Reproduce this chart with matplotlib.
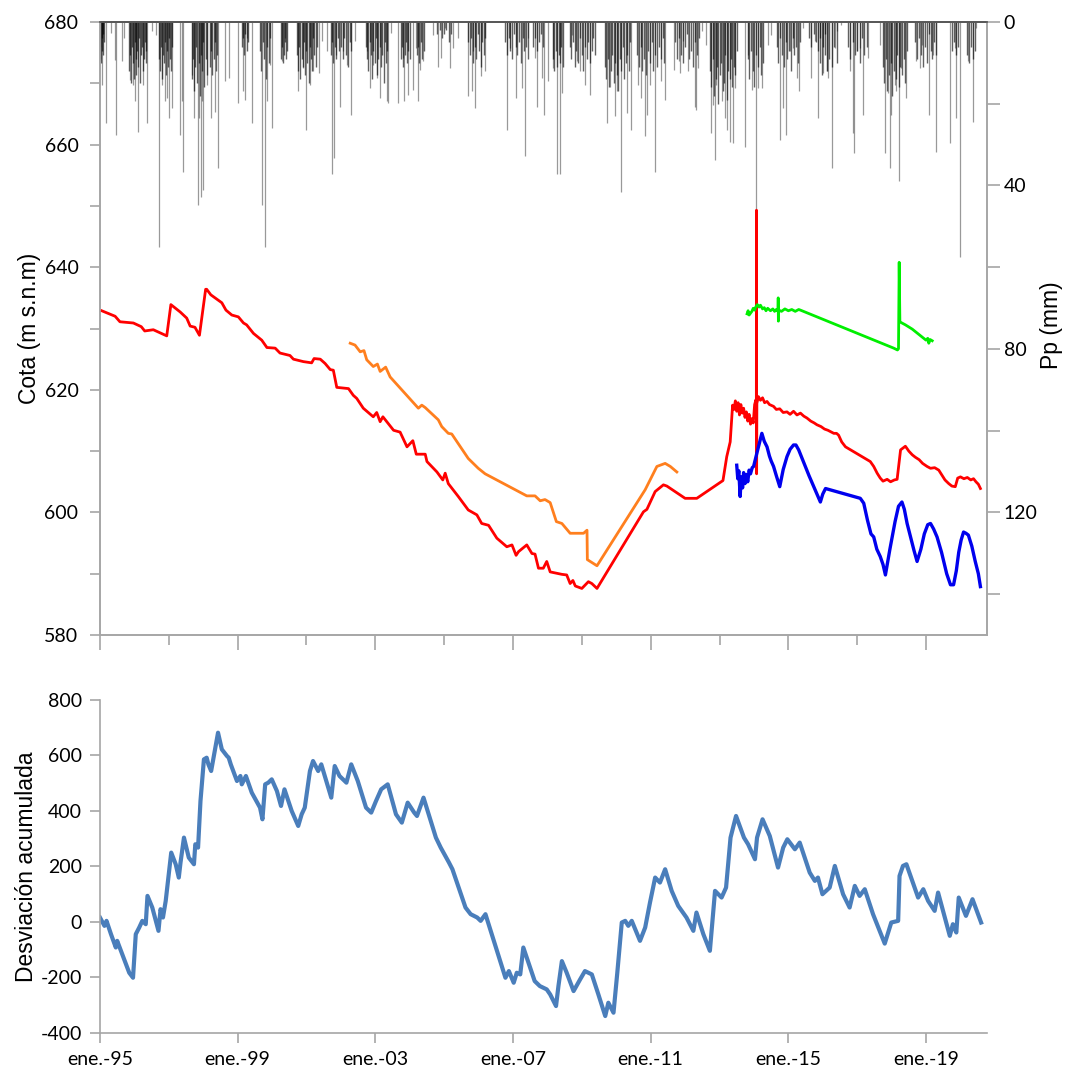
import numpy as np
import matplotlib
matplotlib.use("Agg")
import matplotlib.pyplot as plt

plt.rcParams["axes.unicode_minus"] = False

# ---------------- data ----------------
red_t = [1995.05, 1995.44, 1995.58, 1995.97, 1996.2, 1996.3, 1996.55, 1996.94, 1997.06, 1997.33,
         1997.52, 1997.62, 1997.76, 1997.89, 1998.07, 1998.1, 1998.22, 1998.54, 1998.66, 1998.83,
         1999.02, 1999.17, 1999.26, 1999.46, 1999.7, 1999.85, 2000.09, 2000.23, 2000.52, 2000.62,
         2000.91, 2001.15, 2001.22, 2001.4, 2001.54, 2001.69, 2001.78, 2001.88, 2002.22, 2002.36,
         2002.46, 2002.65, 2002.94, 2003.04, 2003.14, 2003.22, 2003.53, 2003.72, 2003.92, 2004.09,
         2004.19, 2004.45, 2004.5, 2004.79, 2004.96, 2005.03, 2005.12, 2005.41, 2005.7, 2005.95,
         2006.09, 2006.29, 2006.53, 2006.82, 2006.97, 2007.09, 2007.16, 2007.4, 2007.55, 2007.64,
         2007.74, 2007.88, 2007.98, 2008.08, 2008.42, 2008.56, 2008.66, 2008.74, 2008.81, 2009.0,
         2009.19, 2009.29, 2009.44, 2010.79, 2010.89, 2011.13, 2011.37, 2011.47, 2011.71, 2012.0,
         2012.34, 2013.1, 2013.21, 2013.31, 2013.38,
         2013.42, 2013.46, 2013.5, 2013.54, 2013.58, 2013.62, 2013.66, 2013.7, 2013.74, 2013.78,
         2013.82, 2013.86, 2013.9, 2013.94, 2013.98, 2014.02, 2014.06,
         2014.07, 2014.074, 2014.078, 2014.085,
         2014.13, 2014.19, 2014.25, 2014.31, 2014.38, 2014.45, 2014.57, 2014.65, 2014.75, 2014.85,
         2014.96, 2015.05, 2015.15, 2015.25, 2015.35, 2015.45, 2015.54, 2015.65, 2015.75, 2015.83,
         2015.95, 2016.05, 2016.15, 2016.22, 2016.32, 2016.4, 2016.46, 2016.55, 2016.66, 2017.38,
         2017.48, 2017.58, 2017.67, 2017.75, 2017.87, 2017.97, 2018.08, 2018.16, 2018.26, 2018.4,
         2018.5, 2018.6, 2018.69, 2018.8, 2018.9, 2019.03, 2019.13, 2019.25, 2019.37, 2019.45,
         2019.55, 2019.66, 2019.75, 2019.85, 2019.92, 2020.0, 2020.1, 2020.2, 2020.3, 2020.38,
         2020.45, 2020.52, 2020.58]
red_v = [632.9, 632.0, 631.1, 630.9, 630.3, 629.6, 629.8, 628.8, 633.9, 632.7,
         631.7, 630.4, 630.2, 628.9, 636.4, 636.4, 635.5, 634.2, 633.0, 632.2,
         631.9, 630.9, 630.6, 629.2, 628.1, 626.9, 626.8, 626.0, 625.6, 625.0,
         624.6, 624.4, 625.1, 625.0, 624.3, 623.3, 623.2, 620.4, 620.2, 619.1,
         618.6, 617.0, 615.6, 616.3, 614.8, 615.6, 613.4, 613.1, 610.7, 611.7,
         609.5, 609.5, 608.3, 606.6, 605.3, 606.4, 604.7, 602.6, 600.4, 599.6,
         598.2, 597.9, 595.8, 594.4, 594.7, 593.0, 593.6, 594.7, 593.3, 593.2,
         590.9, 590.9, 592.0, 590.3, 589.9, 589.8, 588.4, 588.9, 588.0, 587.6,
         588.7, 588.4, 587.6, 600.1, 600.5, 603.4, 604.5, 604.3, 603.4, 602.3,
         602.3, 605.2, 609.1, 611.5, 617.5,
         616.8, 618.2, 616.5, 617.9, 615.9, 617.6, 616.2, 617.0, 615.5, 616.4,
         614.9, 616.0, 614.4, 615.3, 614.6, 617.6, 618.4,
         618.0, 649.3, 606.3, 617.8,
         618.9, 618.3, 618.7, 617.9, 618.1, 617.6, 617.3, 616.8, 616.9, 616.3,
         616.4, 616.0, 616.5, 615.9, 616.2, 615.7, 615.4, 614.9, 614.6, 614.3,
         614.0, 613.6, 613.4, 613.2, 612.9, 612.9, 612.6, 611.5, 610.7, 608.3,
         607.5, 606.4, 605.6, 605.1, 605.4, 605.0, 605.3, 605.4, 610.2, 610.8,
         610.0, 609.4, 609.0, 608.6, 608.0, 607.5, 607.2, 607.3, 606.9, 606.2,
         605.3, 604.7, 604.3, 604.2, 605.6, 605.8, 605.5, 605.7, 605.3, 605.5,
         605.0, 604.6, 603.9]

orange_t = [2002.27, 2002.41, 2002.56, 2002.67, 2002.75, 2002.94, 2003.06, 2003.14, 2003.3, 2003.43,
            2004.25, 2004.35, 2004.45, 2004.83, 2004.93, 2005.12, 2005.22, 2005.7, 2005.99, 2006.19,
            2007.4, 2007.64, 2007.79, 2007.93, 2008.08, 2008.26, 2008.42, 2008.66, 2009.05, 2009.15,
            2009.16, 2009.44, 2010.84, 2011.18, 2011.42, 2011.57, 2011.76]
orange_v = [627.6, 627.3, 626.2, 626.4, 624.9, 623.8, 624.2, 623.0, 623.7, 622.1,
            617.0, 617.5, 617.1, 615.1, 614.0, 612.9, 612.8, 608.8, 607.2, 606.3,
            602.7, 602.7, 601.9, 602.1, 601.6, 598.5, 598.2, 596.6, 596.6, 597.1,
            592.3, 591.3, 603.7, 607.5, 608.0, 607.5, 606.6]

green_t = [2013.8, 2013.83, 2013.86, 2013.9, 2013.94, 2013.98, 2014.02, 2014.06, 2014.1, 2014.15,
           2014.19, 2014.25, 2014.3, 2014.35, 2014.4, 2014.48, 2014.55, 2014.6, 2014.65, 2014.7,
           2014.705, 2014.71, 2014.72, 2014.8, 2014.9, 2015.0, 2015.1, 2015.2, 2015.3, 2015.35,
           2018.06, 2018.17, 2018.2, 2018.22, 2018.24, 2018.3, 2018.4, 2018.6, 2018.8, 2019.0,
           2019.05, 2019.08, 2019.12, 2019.18]
green_v = [632.4, 632.9, 632.2, 632.5, 632.8, 633.3, 633.0, 633.6, 633.9, 633.5,
           633.8, 633.2, 633.4, 632.9, 633.3, 632.9, 633.2, 632.8, 633.1, 632.8,
           635.0, 631.2, 633.0, 632.8, 633.2, 632.9, 633.1, 632.8, 633.1, 633.0,
           626.8, 626.5, 626.7, 640.8, 631.1, 630.9, 630.6, 629.9, 629.0, 628.1,
           628.4, 627.6, 628.2, 628.0]

blue_t = [2013.5, 2013.53, 2013.56, 2013.6, 2013.63, 2013.67, 2013.7, 2013.74, 2013.78, 2013.82,
          2013.86, 2013.9, 2013.95, 2013.99, 2014.1, 2014.23, 2014.3, 2014.38, 2014.45, 2014.5,
          2014.57, 2014.65, 2014.75, 2014.85, 2014.96, 2015.05, 2015.15, 2015.22, 2015.3, 2015.6,
          2015.93, 2016.0, 2016.08, 2017.09, 2017.19, 2017.3, 2017.4, 2017.48, 2017.57, 2017.67,
          2017.75, 2017.82, 2017.95, 2018.1, 2018.2, 2018.3, 2018.37, 2018.45, 2018.55, 2018.65,
          2018.74, 2018.85, 2018.95, 2019.05, 2019.13, 2019.22, 2019.32, 2019.45, 2019.6, 2019.71,
          2019.8, 2019.88, 2019.95, 2020.02, 2020.09, 2020.16, 2020.23, 2020.33, 2020.43, 2020.52,
          2020.58]
blue_v = [607.7, 605.5, 606.8, 602.6, 605.8, 604.0, 606.5, 604.7, 606.2, 605.0,
          606.9, 606.3, 607.3, 607.5, 610.0, 612.9, 611.6, 610.7, 609.2, 608.4,
          607.5, 606.0, 604.2, 607.0, 609.1, 610.3, 611.0, 611.0, 610.2, 606.0,
          601.7, 603.0, 603.9, 602.3, 601.5, 598.7, 596.5, 596.0, 594.0, 592.8,
          591.5, 589.8, 594.0, 598.5, 601.0, 601.7, 600.5, 598.2, 596.0, 593.8,
          592.0, 594.0, 596.5, 598.0, 598.2, 597.3, 596.0, 593.5, 590.0, 588.2,
          588.2, 590.5, 593.5, 595.5, 596.8, 596.6, 596.3, 594.5, 592.0, 590.0,
          587.9]

# isolated daily rainfall events (decimal year, mm)
pp_year = [1995.0, 1995.05, 1995.17, 1995.32, 1995.44, 1995.48, 1995.63, 1995.71, 1995.87, 1995.97,
           1996.02, 1996.11, 1996.26, 1996.36, 1996.52, 1996.63, 1996.71, 1996.79, 1996.89, 1996.94,
           1997.0, 1997.08, 1997.32, 1997.37, 1997.42, 1997.66, 1997.74, 1997.84, 1997.88, 1997.93,
           1997.95, 1998.0, 1998.1, 1998.24, 1998.34, 1998.44, 1998.63, 1998.76, 1999.02, 1999.16,
           1999.21, 1999.28, 1999.43, 1999.72, 1999.79, 1999.84, 1999.94, 1999.99, 2000.28, 2000.37,
           2000.76, 2000.9, 2000.98, 2001.1, 2001.2, 2001.37, 2001.44, 2001.6, 2001.73, 2001.81,
           2001.87, 2001.97, 2002.07, 2002.17, 2002.28, 2002.41, 2002.75, 2002.84, 2002.94, 2003.04,
           2003.13, 2003.33, 2003.37, 2003.45, 2003.65, 2003.81, 2003.84, 2003.94, 2004.08, 2004.17,
           2004.25, 2004.29, 2004.39, 2004.68, 2004.81, 2004.92, 2005.02, 2005.17, 2005.26, 2005.39,
           2005.7, 2005.8, 2005.84, 2005.91, 2006.07, 2006.18, 2006.84, 2006.91, 2007.1, 2007.25,
           2007.34, 2007.44, 2007.63, 2007.7, 2007.83, 2007.9, 2008.02, 2008.17, 2008.28, 2008.36,
           2008.41, 2008.7, 2008.85, 2008.94, 2009.09, 2009.23, 2009.72, 2009.81, 2009.96, 2010.03,
           2010.15, 2010.3, 2010.44, 2010.64, 2010.73, 2010.83, 2010.9, 2010.97, 2011.12, 2011.31,
           2011.41, 2011.67, 2011.82, 2011.85, 2011.94, 2012.09, 2012.28, 2012.33, 2012.38, 2012.48,
           2012.62, 2012.75, 2012.81, 2012.86, 2012.91, 2013.06, 2013.15, 2013.23, 2013.3, 2013.39,
           2013.44, 2013.73, 2013.83, 2013.95, 2014.07, 2014.12, 2014.22, 2014.41, 2014.51, 2014.75,
           2014.85, 2014.94, 2015.04, 2015.14, 2015.24, 2015.3, 2015.43, 2015.67, 2015.77, 2015.85,
           2016.01, 2016.11, 2016.15, 2016.27, 2016.35, 2016.4, 2016.54, 2016.78, 2016.88, 2016.91,
           2016.98, 2017.07, 2017.17, 2017.32, 2017.65, 2017.8, 2017.9, 2017.94, 2017.99, 2018.09,
           2018.14, 2018.21, 2018.28, 2018.43, 2018.72, 2018.82, 2018.87, 2019.09, 2019.2, 2019.3,
           2019.69, 2019.83, 2019.88, 2019.98, 2020.22, 2020.35, 2020.46]
pp_mm = [9.6, 15.4, 24.8, 2.7, 9.2, 27.6, 9.6, 3.9, 14.1, 15.4,
         19.4, 26.8, 15.4, 24.8, 2.3, 3.1, 55.0, 15.4, 19.4, 18.6,
         23.5, 21.1, 27.6, 19.4, 36.6, 12.9, 23.5, 44.8, 23.5, 42.7,
         19.4, 41.1, 15.4, 23.5, 21.9, 35.8, 14.5, 13.7, 19.9, 17.0,
         19.0, 3.9, 24.8, 44.8, 55.0, 19.4, 10.5, 26.0, 9.6, 3.9,
         17.0, 11.3, 26.5, 15.4, 12.1, 12.5, 4.7, 7.2, 37.3, 33.3,
         8.0, 20.7, 7.2, 10.5, 22.7, 4.7, 7.2, 16.2, 10.5, 13.7,
         18.6, 19.4, 19.8, 2.7, 19.7, 8.8, 19.3, 17.8, 16.6, 6.4,
         19.3, 11.7, 9.6, 3.1, 10.9, 8.8, 1.5, 11.3, 6.4, 3.9,
         18.2, 17.0, 7.2, 21.0, 13.3, 12.1, 26.4, 6.4, 18.6, 16.2,
         32.9, 3.9, 8.8, 20.7, 13.7, 22.7, 14.5, 11.3, 37.3, 37.3,
         17.4, 3.1, 9.6, 12.1, 15.4, 17.8, 24.8, 15.8, 23.1, 17.0,
         41.5, 22.3, 26.4, 15.4, 18.6, 28.0, 22.7, 15.4, 36.6, 14.5,
         19.0, 11.7, 9.6, 12.5, 4.7, 12.1, 20.7, 21.5, 11.3, 2.3,
         5.6, 27.2, 20.3, 33.7, 15.4, 19.4, 23.5, 26.4, 29.3, 29.7,
         16.2, 30.5, 8.0, 16.6, 46.0, 16.2, 16.2, 5.6, 3.1, 28.8,
         21.1, 27.6, 7.2, 6.4, 13.7, 17.0, 1.5, 13.7, 4.7, 23.5,
         12.5, 12.1, 13.7, 35.8, 6.4, 2.3, 0.8, 12.1, 27.2, 32.1,
         7.2, 6.4, 22.7, 8.8, 5.6, 32.1, 17.4, 35.8, 22.7, 15.4,
         17.0, 39.0, 11.3, 18.6, 9.6, 11.3, 5.6, 22.7, 8.0, 31.7,
         29.7, 6.4, 23.5, 57.4, 9.6, 24.5, 1.5]

# dense rainy-season clusters: (start, end, daily mm read as the dark band)
wet_start = [1994.99, 1995.85, 1996.72, 1997.66, 1998.2, 1999.12, 1999.65, 2000.25, 2000.72, 2001.7,
             2002.0, 2002.72, 2003.74, 2004.2, 2004.8, 2005.7, 2006.77, 2007.58, 2008.16, 2008.65,
             2009.67, 2010.6, 2011.7, 2012.72, 2013.82, 2014.66, 2015.6, 2015.92, 2016.73, 2017.74,
             2018.68, 2019.74, 2020.18]
wet_end = [1995.12, 1996.35, 1997.1, 1998.1, 1998.4, 1999.3, 1999.95, 2000.42, 2001.3, 2001.95,
           2002.3, 2003.35, 2004.0, 2004.4, 2005.2, 2006.2, 2007.43, 2007.87, 2008.45, 2009.38,
           2010.4, 2011.4, 2012.4, 2013.5, 2014.26, 2015.33, 2016.06, 2016.4, 2017.28, 2018.44,
           2019.3, 2019.93, 2020.42]
wet_mm = [[9, 6, 10, 4, 7, 3, 8, 5],
          [12, 8, 15, 6, 10, 14, 5, 9, 13, 7, 11, 4, 15, 8, 6, 12, 9, 5, 10, 7],
          [9, 12, 6, 14, 8, 10, 5, 13, 7, 11, 4, 9, 12, 6],
          [14, 9, 17, 11, 6, 15, 10, 18, 8, 12, 5, 16, 9, 13],
          [11, 7, 13, 9, 5, 12, 8],
          [6, 4, 8, 3, 7, 5],
          [7, 12, 5, 9, 14, 6, 10, 4],
          [9, 6, 10, 8, 5, 9, 7],
          [8, 12, 6, 14, 9, 11, 5, 13, 7, 10, 15, 6, 9, 12, 4, 8, 11, 6],
          [8, 5, 10, 6, 9, 4, 7],
          [6, 9, 4, 8, 11, 5, 7],
          [6, 9, 12, 5, 8, 14, 7, 10, 4, 13, 9, 6, 11, 8, 15, 5, 10, 7],
          [9, 6, 11, 8, 5, 10, 7, 9],
          [8, 6, 10, 5, 9, 7],
          [3, 2, 4, 3, 2, 5, 3],
          [5, 8, 4, 10, 6, 9, 3, 7, 11, 5, 8, 4],
          [5, 8, 4, 7, 9, 3, 6, 8, 5, 10, 4, 7, 6, 9],
          [6, 4, 7, 5, 3, 6],
          [9, 12, 7, 11, 8, 10, 6, 11],
          [6, 9, 5, 11, 7, 10, 4, 8, 12, 6, 9, 5, 10, 7, 4, 8],
          [11, 14, 9, 16, 12, 8, 15, 10, 13, 17, 9, 12, 6, 14, 10, 8, 12, 5],
          [8, 11, 6, 12, 9, 13, 7, 10, 5, 12, 8, 11, 6, 9, 4, 10],
          [5, 9, 4, 8, 10, 6, 3, 9, 7, 11, 5, 8, 4],
          [12, 16, 9, 18, 14, 11, 20, 13, 10, 17, 15, 8, 19, 12, 14, 9, 16, 11, 13, 7],
          [9, 14, 7, 12, 16, 8, 11, 6, 13, 10],
          [6, 10, 4, 8, 11, 5, 9, 7, 12, 4, 8, 6, 10, 5],
          [4, 6, 3, 5, 7, 4, 6, 3],
          [10, 13, 8, 12, 9, 11, 6, 10],
          [6, 9, 5, 8, 7, 10, 4, 8, 6],
          [11, 15, 9, 17, 13, 10, 18, 12, 14, 8, 16, 11, 13, 9, 15, 7],
          [5, 9, 4, 8, 11, 6, 10, 3, 7, 9, 5, 8],
          [7, 5, 8, 6],
          [8, 10, 6, 9, 7]]

dev_t = [1995.0, 1995.13, 1995.19, 1995.32, 1995.46, 1995.5, 1995.61, 1995.85, 1995.96, 1996.04,
         1996.14, 1996.23, 1996.33, 1996.38, 1996.52, 1996.7, 1996.76, 1996.83, 1996.91, 1997.07,
         1997.2, 1997.29, 1997.34, 1997.44, 1997.58, 1997.73, 1997.77, 1997.85, 1997.92, 1998.02,
         1998.1, 1998.15, 1998.23, 1998.3, 1998.43, 1998.54, 1998.69, 1998.74, 1998.8, 1998.98,
         1999.08, 1999.12, 1999.24, 1999.41, 1999.65, 1999.72, 1999.8, 1999.89, 1999.99, 2000.14,
         2000.26, 2000.36, 2000.57, 2000.76, 2000.86, 2000.95, 2001.1, 2001.19, 2001.34, 2001.43,
         2001.72, 2001.82, 2001.96, 2002.16, 2002.3, 2002.49, 2002.73, 2002.88, 2003.02, 2003.17,
         2003.36, 2003.6, 2003.77, 2003.94, 2004.13, 2004.21, 2004.4, 2004.76, 2004.9, 2005.14,
         2005.24, 2005.62, 2005.77, 2005.96, 2006.06, 2006.2, 2006.78, 2006.88, 2007.02, 2007.11,
         2007.21, 2007.3, 2007.63, 2007.78, 2007.98, 2008.08, 2008.25, 2008.32, 2008.42, 2008.56,
         2008.76, 2008.95, 2009.09, 2009.29, 2009.48, 2009.68, 2009.77, 2009.92, 2010.03, 2010.16,
         2010.26, 2010.35, 2010.45, 2010.69, 2010.84, 2010.98, 2011.13, 2011.27, 2011.42, 2011.61,
         2011.8, 2012.04, 2012.24, 2012.33, 2012.53, 2012.72, 2012.87, 2013.06, 2013.19, 2013.32,
         2013.48, 2013.71, 2013.83, 2014.03, 2014.09, 2014.25, 2014.46, 2014.7, 2014.85, 2014.97,
         2015.19, 2015.33, 2015.62, 2015.77, 2015.86, 2015.99, 2016.2, 2016.35, 2016.59, 2016.78,
         2016.93, 2017.07, 2017.22, 2017.46, 2017.8, 2017.99, 2018.19, 2018.23, 2018.33, 2018.43,
         2018.77, 2018.92, 2019.06, 2019.25, 2019.35, 2019.69, 2019.78, 2019.88, 2019.95, 2020.16,
         2020.35, 2020.6]
dev_v = [16, -14, 4, -44, -92, -68, -104, -183, -201, -44,
         -20, 4, -8, 94, 52, -32, 46, 16, 76, 250,
         208, 160, 214, 304, 232, 208, 280, 268, 436, 586,
         592, 568, 544, 592, 682, 622, 598, 592, 568, 508,
         526, 496, 526, 466, 412, 370, 496, 502, 514, 472,
         418, 478, 400, 346, 388, 412, 544, 580, 544, 568,
         448, 562, 526, 502, 568, 508, 412, 394, 436, 478,
         496, 388, 358, 430, 394, 382, 448, 304, 268, 214,
         190, 52, 28, 16, 4, 28, -201, -177, -219, -183,
         -189, -92, -213, -231, -243, -261, -303, -231, -141, -183,
         -249, -207, -177, -189, -261, -339, -291, -327, -183, -2,
         4, -14, 4, -68, -20, 70, 160, 142, 190, 112,
         58, 16, -32, 34, -44, -104, 112, 88, 124, 304,
         382, 304, 280, 226, 304, 370, 310, 196, 268, 298,
         262, 286, 178, 148, 160, 100, 124, 202, 100, 52,
         130, 94, 118, 28, -78, -2, 4, 166, 202, 208,
         88, 118, 76, 40, 106, -50, -8, -38, 88, 22,
         82, -2]

cota_ticks = [580, 600, 620, 640, 660, 680]
pp_ticks = [0, 40, 80, 120]
dev_ticks = [-400, -200, 0, 200, 400, 600, 800]
year_ticks = [1995, 1999, 2003, 2007, 2011, 2015, 2019]
year_labels = ["ene.-95", "ene.-99", "ene.-03", "ene.-07", "ene.-11", "ene.-15", "ene.-19"]

# ---------------- figure ----------------
TICKFONT = ["Lato", "DejaVu Sans"]
LABFONT = ["Liberation Sans", "DejaVu Sans"]
SPINE = "#a6a6a6"
XMIN, XMAX = 1995.0, 2020.77

fig = plt.figure(figsize=(10.75, 10.68), dpi=100)

ax = fig.add_axes([0.0930, 0.4054, 0.8251, 0.574])
ax2 = ax.twinx()
ax.set_zorder(ax2.get_zorder() + 1)
ax.patch.set_visible(False)

# precipitation (right axis, inverted)
ax2.vlines(pp_year, 0, pp_mm, color="black", alpha=0.4, linewidth=0.9)
for s, e, vals in zip(wet_start, wet_end, wet_mm):
    xs = np.linspace(s, e, len(vals))
    ax2.vlines(xs, 0, vals, color="black", alpha=0.62, linewidth=1.0)
ax2.set_ylim(150, 0)
ax2.set_yticks(pp_ticks)
ax2.set_yticks([20, 60, 100, 140], minor=True)
ax2.set_ylabel("Pp (mm)", fontsize=16.5, family=LABFONT)
ax2.yaxis.set_label_coords(1.060, 0.505)

# groundwater levels
ax.plot(orange_t, orange_v, color="#ff7f1e", lw=2.0)
ax.plot(red_t, red_v, color="#ff0000", lw=2.0)
ax.plot(green_t, green_v, color="#00ee00", lw=2.0)
ax.plot(blue_t, blue_v, color="#0000ee", lw=2.4)

ax.set_xlim(XMIN, XMAX)
ax.set_ylim(580, 680)
ax.set_yticks(cota_ticks)
ax.set_yticks([590, 610, 630, 650, 670], minor=True)
ax.set_xticks(year_ticks)
ax.set_xticks([1997, 2001, 2005, 2009, 2013, 2017], minor=True)
ax.tick_params(axis="x", which="major", length=11, labelbottom=False, color=SPINE, width=1.2)
ax.tick_params(axis="x", which="minor", length=7, color=SPINE, width=1.2)
ax.tick_params(axis="y", which="both", length=7.5, color=SPINE, width=1.2, pad=8)
ax.set_ylabel("Cota (m s.n.m)", fontsize=16.5, family=LABFONT)
ax.yaxis.set_label_coords(-0.066, 0.5)
ax2.tick_params(axis="y", which="both", length=9, color=SPINE, width=1.2, pad=3)
for a in (ax, ax2):
    for sp in a.spines.values():
        sp.set_color(SPINE)
        sp.set_linewidth(1.2)
ax.spines["top"].set_color("#555555")
ax2.spines["top"].set_color("#555555")
for lab in ax.get_yticklabels() + ax2.get_yticklabels():
    lab.set_family(TICKFONT)
    lab.set_fontsize(14)

# cumulative deviation
ax3 = fig.add_axes([0.0930, 0.0328, 0.8251, 0.3118])
ax3.plot(dev_t, dev_v, color="#4a7ebb", lw=3.0)
ax3.set_xlim(XMIN, XMAX)
ax3.set_ylim(-400, 800)
ax3.set_yticks(dev_ticks)
ax3.set_xticks(year_ticks)
ax3.set_xticklabels(year_labels)
ax3.spines["top"].set_visible(False)
ax3.spines["right"].set_visible(False)
for sp in ("left", "bottom"):
    ax3.spines[sp].set_color(SPINE)
    ax3.spines[sp].set_linewidth(1.2)
ax3.tick_params(axis="both", length=7, color=SPINE, width=1.2, pad=6)
ax3.set_ylabel("Desviación acumulada", fontsize=16.5, family=LABFONT)
ax3.yaxis.set_label_coords(-0.070, 0.5)
for lab in ax3.get_xticklabels() + ax3.get_yticklabels():
    lab.set_family(TICKFONT)
    lab.set_fontsize(14)

fig.savefig("out.png", dpi=100, facecolor="white")
